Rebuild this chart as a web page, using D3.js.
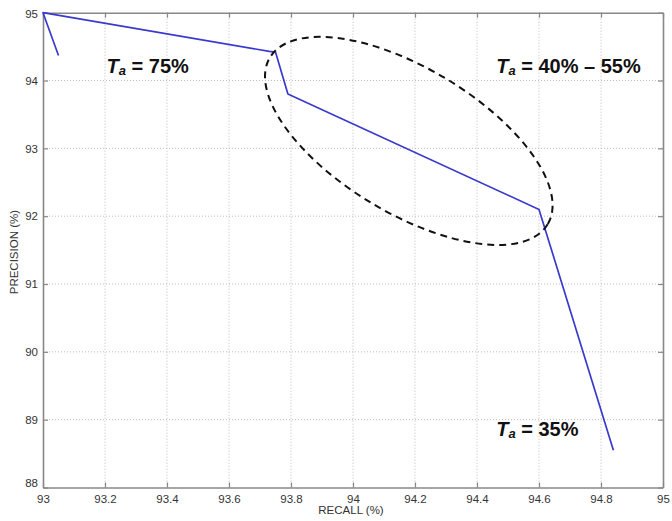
<!DOCTYPE html>
<html><head><meta charset="utf-8">
<script src="https://cdn.jsdelivr.net/npm/d3@7"></script>
<style>body{margin:0;background:#fff}svg{display:block}</style>
</head><body>
<svg id="c" width="672" height="521"></svg>
<script>
const recall    = [93.05, 93.0, 93.73, 93.75, 93.79, 94.60, 94.84];
const precision = [94.37, 95.0, 94.43, 94.42, 93.80, 92.10, 88.55];
const xTicks = [93, 93.2, 93.4, 93.6, 93.8, 94, 94.2, 94.4, 94.6, 94.8, 95];
const yTicks = [88, 89, 90, 91, 92, 93, 94, 95];
const labels = [
  {x: 93.205, y: 94.11, sub: "a", text: " = 75%"},
  {x: 94.462, y: 94.11, sub: "a", text: " = 40% \u2013 55%"},
  {x: 94.462, y: 88.76, sub: "a", text: " = 35%"}
];
const ellipseCenter = {x: 94.18, y: 93.11};

const svg = d3.select("#c");
const L = 43, R = 663, T = 12.7, B = 487.5;
const x = d3.scaleLinear().domain([93, 95]).range([L, R]);
const y = d3.scaleLinear().domain([88, 95]).range([B, T]);

// grid
const g = svg.append("g");
g.selectAll(".vx").data(xTicks.slice(1, -1)).join("line")
  .attr("x1", d => x(d)).attr("x2", d => x(d)).attr("y1", T).attr("y2", B)
  .attr("stroke", "#bbb").attr("stroke-width", 1).attr("stroke-dasharray", "1,2");
g.selectAll(".hy").data(yTicks.slice(1, -1)).join("line")
  .attr("y1", d => y(d)).attr("y2", d => y(d)).attr("x1", L).attr("x2", R)
  .attr("stroke", "#bbb").attr("stroke-width", 1).attr("stroke-dasharray", "1,2");

// axes
const fmt = d => d3.format("")(+d.toFixed(1));
const ax = svg.append("g").attr("transform", `translate(0,${B})`)
  .call(d3.axisBottom(x).tickValues(xTicks).tickFormat(fmt).tickSizeInner(-5).tickSizeOuter(0).tickPadding(7));
const ay = svg.append("g").attr("transform", `translate(${L},0)`)
  .call(d3.axisLeft(y).tickValues(yTicks).tickFormat(fmt).tickSizeInner(-5).tickSizeOuter(0).tickPadding(5));
const axTop = svg.append("g").attr("transform", `translate(0,${T})`)
  .call(d3.axisTop(x).tickValues(xTicks).tickFormat("").tickSizeInner(-5).tickSizeOuter(0));
const ayR = svg.append("g").attr("transform", `translate(${R},0)`)
  .call(d3.axisRight(y).tickValues(yTicks).tickFormat("").tickSizeInner(-5).tickSizeOuter(0));
[ax, ay, axTop, ayR].forEach(a => {
  a.select(".domain").attr("stroke", "#888").attr("stroke-width", 1.6);
  a.selectAll(".tick line").attr("stroke", "#888").attr("stroke-width", 1.2);
  a.selectAll("text").attr("fill", "#333").attr("font-family", "Liberation Sans, Arial, sans-serif").attr("font-size", 11.5);
});
ay.selectAll(".tick text").filter(d => d === 88).attr("dy", "-0.05em");
ay.selectAll(".tick text").filter(d => d === 95).attr("dy", "0.45em");

// axis titles
svg.append("text").attr("x", (L + R) / 2 - 2).attr("y", 514).attr("text-anchor", "middle")
  .attr("font-family", "Liberation Sans, Arial, sans-serif").attr("font-size", 11.5).attr("fill", "#333")
  .text("RECALL (%)");
svg.append("text").attr("transform", `translate(18,${(T + B) / 2 + 2}) rotate(-90)`).attr("text-anchor", "middle")
  .attr("font-family", "Liberation Sans, Arial, sans-serif").attr("font-size", 11.5).attr("fill", "#333")
  .text("PRECISION (%)");

// line
const pts = recall.map((r, i) => [r, precision[i]]);
svg.append("path").datum(pts)
  .attr("d", d3.line().x(d => x(d[0])).y(d => y(d[1])))
  .attr("fill", "none").attr("stroke", "#3a3acc").attr("stroke-width", 1.7).attr("stroke-linejoin", "round");

// ellipse
const cx = x(ellipseCenter.x), cy = y(ellipseCenter.y);
svg.append("ellipse").attr("cx", 0).attr("cy", 0).attr("rx", 162).attr("ry", 72.5)
  .attr("transform", `translate(${cx},${cy}) rotate(31)`)
  .attr("fill", "none").attr("stroke", "#111").attr("stroke-width", 2).attr("stroke-dasharray", "7,5");

// labels
labels.forEach(l => {
  const t = svg.append("text").attr("x", x(l.x)).attr("y", y(l.y))
    .attr("font-family", "Liberation Sans, Arial, sans-serif").attr("font-weight", "bold")
    .attr("font-size", 20).attr("fill", "#111");
  t.append("tspan").attr("font-style", "italic").text("T");
  t.append("tspan").attr("font-style", "italic").attr("font-size", 13).attr("dy", 2).text(l.sub);
  t.append("tspan").attr("dy", -2).text(l.text);
});
</script>
</body></html>
